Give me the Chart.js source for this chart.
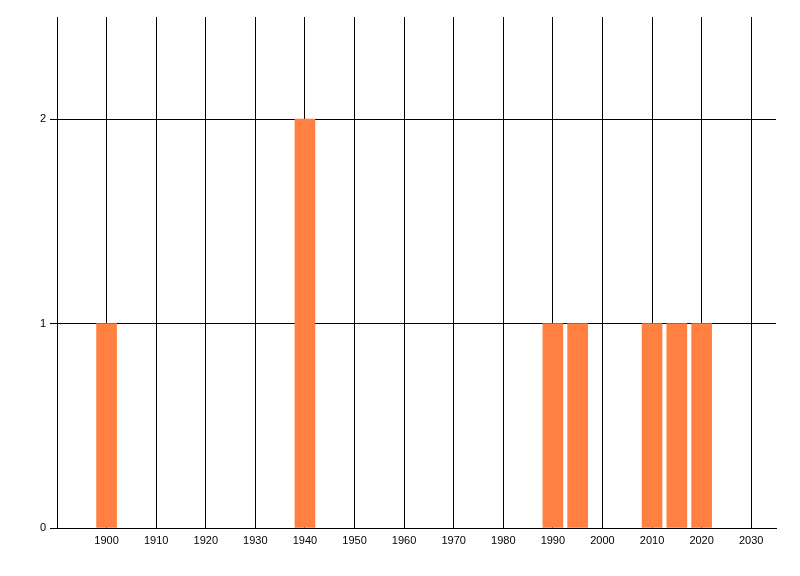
<!DOCTYPE html>
<html>
<head>
<meta charset="utf-8">
<script src="https://cdn.jsdelivr.net/npm/chart.js@4"></script>
<style>
html,body{margin:0;padding:0;background:#fff;}
canvas{display:block;}
</style>
</head>
<body>
<canvas id="c" width="800" height="576"></canvas>
<script>
const years = [1900, 1940, 1990, 1995, 2010, 2015, 2020];
const counts = [1, 2, 1, 1, 1, 1, 1];
const xTicks = [1900, 1910, 1920, 1930, 1940, 1950, 1960, 1970, 1980, 1990, 2000, 2010, 2020, 2030];
const yTicks = [0, 1, 2];

const font = {family: "'Liberation Sans', Arial, sans-serif", size: 11};

new Chart(document.getElementById('c'), {
  type: 'bar',
  data: {
    datasets: [{
      data: years.map((x, i) => ({x: x, y: counts[i]})),
      backgroundColor: '#FF8040',
      borderWidth: 0,
      barThickness: 20
    }]
  },
  options: {
    responsive: false,
    devicePixelRatio: 1,
    animation: false,
    layout: {padding: {top: 17, right: 24, left: 0, bottom: 0}},
    plugins: {legend: {display: false}, tooltip: {enabled: false}},
    scales: {
      x: {
        type: 'linear',
        min: 1890,
        max: 2035,
        offset: false,
        afterBuildTicks: s => { s.ticks = xTicks.map(v => ({value: v})); },
        afterFit: s => { s.height = 48; },
        grid: {color: '#000', lineWidth: 1, drawTicks: false, offset: false},
        border: {color: '#000', width: 1},
        ticks: {color: '#000', font: font, padding: 6, maxRotation: 0, autoSkip: false,
                callback: v => String(v)}
      },
      y: {
        min: 0,
        max: 2.5,
        afterBuildTicks: s => { s.ticks = yTicks.map(v => ({value: v})); },
        afterFit: s => { s.width = 57; },
        grid: {color: '#000', lineWidth: 1, drawTicks: true, tickLength: 7},
        border: {color: '#000', width: 1},
        ticks: {color: '#000', font: font, padding: 4, callback: v => String(v)}
      }
    }
  }
});
</script>
</body>
</html>
